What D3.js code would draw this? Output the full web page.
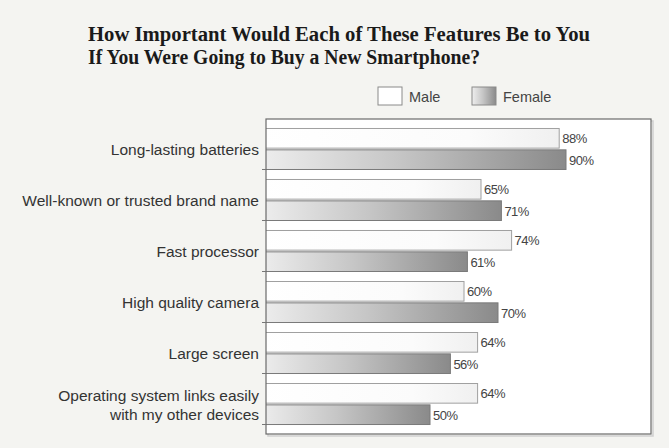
<!DOCTYPE html>
<html>
<head>
<meta charset="utf-8">
<script src="https://cdn.jsdelivr.net/npm/d3@7"></script>
<style>
  html, body { margin: 0; padding: 0; background: #f4f4f1; }
  svg { display: block; }
</style>
</head>
<body>
<svg id="chart" width="669" height="448"></svg>
<script>
// Survey: importance of smartphone features, by gender (percent)
const features = [
  ["Long-lasting batteries"],
  ["Well-known or trusted brand name"],
  ["Fast processor"],
  ["High quality camera"],
  ["Large screen"],
  ["Operating system links easily", "with my other devices"]
];
const seriesNames = ["Male", "Female"];
const maleValues = [88, 65, 74, 60, 64, 64];
const femaleValues = [90, 71, 61, 70, 56, 50];
const titleLines = [
  "How Important Would Each of These Features Be to You",
  "If You Were Going to Buy a New Smartphone?"
];

const svg = d3.select("#chart");

const frame = { left: 266, top: 119, right: 651, bottom: 434 };

const defs = svg.append("defs");
const gFemale = defs.append("linearGradient").attr("id", "gradFemale")
  .attr("x1", "0%").attr("x2", "100%").attr("y1", "0%").attr("y2", "0%");
gFemale.append("stop").attr("offset", "0%").attr("stop-color", "#eeeeee");
gFemale.append("stop").attr("offset", "45%").attr("stop-color", "#c6c6c6");
gFemale.append("stop").attr("offset", "100%").attr("stop-color", "#8a8a8a");
const gMale = defs.append("linearGradient").attr("id", "gradMale")
  .attr("x1", "0%").attr("x2", "100%").attr("y1", "0%").attr("y2", "0%");
gMale.append("stop").attr("offset", "0%").attr("stop-color", "#ffffff");
gMale.append("stop").attr("offset", "70%").attr("stop-color", "#fbfbfb");
gMale.append("stop").attr("offset", "100%").attr("stop-color", "#f0f0f0");

defs.append("clipPath").attr("id", "plotClip")
  .append("rect")
  .attr("x", frame.left).attr("y", frame.top)
  .attr("width", frame.right - frame.left)
  .attr("height", frame.bottom - frame.top);

// Title
const title = svg.append("g").attr("font-family", "'Liberation Serif', 'DejaVu Serif', serif")
  .attr("font-weight", "bold").attr("font-size", 20).attr("fill", "#1a1a1a");
titleLines.forEach((t, i) => {
  title.append("text").attr("x", 88).attr("y", 41 + i * 23)
    .attr("textLength", i === 0 ? 502 : 392).attr("lengthAdjust", "spacingAndGlyphs")
    .text(t);
});

// Legend
const legend = svg.append("g").attr("font-family", "'Liberation Sans', Arial, sans-serif")
  .attr("font-size", 14.5).attr("fill", "#444");
const legendPos = [378, 472];
seriesNames.forEach((name, i) => {
  legend.append("rect").attr("x", legendPos[i]).attr("y", 87).attr("width", 24).attr("height", 18)
    .attr("fill", i === 0 ? "#ffffff" : "url(#gradFemale)").attr("stroke", "#8a8a8a");
  legend.append("text").attr("x", legendPos[i] + 31).attr("y", 102).text(name);
});

// Plot area with a soft drop edge
svg.append("rect")
  .attr("x", frame.left + 2).attr("y", frame.top + 2)
  .attr("width", frame.right - frame.left).attr("height", frame.bottom - frame.top)
  .attr("fill", "none").attr("stroke", "#cfcfcf").attr("stroke-width", 1.5);
svg.append("rect")
  .attr("x", frame.left).attr("y", frame.top)
  .attr("width", frame.right - frame.left).attr("height", frame.bottom - frame.top)
  .attr("fill", "#ffffff");

const x = d3.scaleLinear().domain([0, 100]).range([260, 600]);
const y = d3.scaleBand().domain(d3.range(features.length))
  .range([frame.top, frame.bottom]).paddingInner(0.196).paddingOuter(0.186);
const sub = d3.scaleBand().domain([0, 1]).range([0, y.bandwidth()]).paddingInner(0.08);

const rows = features.map((f, i) => ({ i, vals: [maleValues[i], femaleValues[i]] }));

const bars = svg.append("g").attr("clip-path", "url(#plotClip)");
rows.forEach(r => {
  r.vals.forEach((v, s) => {
    bars.append("rect")
      .attr("x", x(0)).attr("y", y(r.i) + sub(s))
      .attr("width", x(v) - x(0)).attr("height", sub.bandwidth())
      .attr("fill", s === 0 ? "url(#gradMale)" : "url(#gradFemale)")
      .attr("stroke", s === 0 ? "#a0a0a0" : "#7a7a7a").attr("stroke-width", 1);
  });
});

// Value labels
const labels = svg.append("g").attr("font-family", "'Liberation Sans', Arial, sans-serif")
  .attr("font-size", 13).attr("fill", "#444");
rows.forEach(r => {
  r.vals.forEach((v, s) => {
    labels.append("text").attr("x", x(v) + 3)
      .attr("y", y(r.i) + sub(s) + sub.bandwidth() / 2 + 5)
      .attr("letter-spacing", -0.5)
      .text(v + "%");
  });
});

// Frame
svg.append("rect")
  .attr("x", frame.left).attr("y", frame.top)
  .attr("width", frame.right - frame.left).attr("height", frame.bottom - frame.top)
  .attr("fill", "none").attr("stroke", "#6a6a6a").attr("stroke-width", 1.2);

// Category axis
const yAxis = d3.axisLeft(y).tickSize(4).tickFormat(() => "");
const axisG = svg.append("g").attr("transform", `translate(${frame.left},0)`).call(yAxis);
axisG.select(".domain").remove();
axisG.selectAll(".tick line").attr("stroke", "#777").attr("transform", `translate(0,${y.bandwidth() / 2})`);

const catLabels = svg.append("g").attr("font-family", "'Liberation Sans', Arial, sans-serif")
  .attr("font-size", 15.5).attr("fill", "#333").attr("text-anchor", "end");
features.forEach((lines, i) => {
  const cy = y(i) + y.bandwidth() / 2;
  const n = lines.length;
  lines.forEach((t, k) => {
    catLabels.append("text").attr("x", 259)
      .attr("y", cy + 6 + (k - (n - 1) / 2) * 19)
      .text(t);
  });
});
</script>
</body>
</html>
